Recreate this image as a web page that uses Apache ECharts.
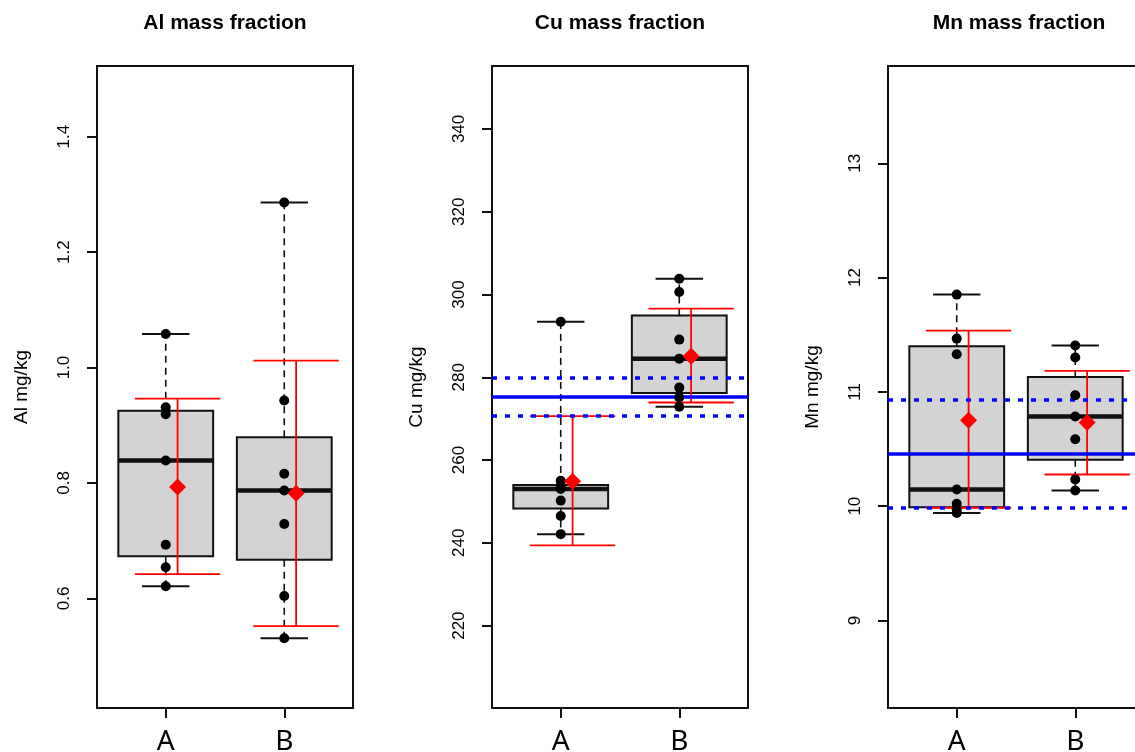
<!DOCTYPE html>
<html>
<head>
<meta charset="utf-8">
<script src="https://cdn.jsdelivr.net/npm/echarts@6/dist/echarts.min.js"></script>
<style>
  html, body { margin: 0; padding: 0; background: #fff; }
  #main { width: 1135px; height: 752px; }
</style>
</head>
<body>
<div id="main"></div>
<script>
// groups on the x axis
var groups = ['A', 'B'];
var titles = ['Al mass fraction', 'Cu mass fraction', 'Mn mass fraction'];
var yNames = ['Al mg/kg', 'Cu mg/kg', 'Mn mg/kg'];

// Al: raw points per group, box stats [min, q1, median, q3, max], mean, mean interval
var alPoints = [[1.058, 0.931, 0.919, 0.839, 0.693, 0.654, 0.621], [1.286, 0.943, 0.816, 0.787, 0.729, 0.604, 0.531]];
var alBox = [[0.621, 0.673, 0.839, 0.925, 1.058], [0.531, 0.667, 0.787, 0.879, 1.286]];
var alMean = [0.793, 0.782];
var alErr = [[0.642, 0.946], [0.552, 1.012]];
var alTicks = [0.6, 0.8, 1.0, 1.2, 1.4];

// Cu
var cuPoints = [[293.4, 255.0, 253.8, 253.0, 250.2, 246.5, 242.1], [303.8, 300.6, 289.1, 284.5, 277.5, 275.1, 272.9]];
var cuBox = [[242.1, 248.3, 253.0, 254.0, 293.4], [272.9, 276.2, 284.5, 294.9, 303.8]];
var cuMean = [254.9, 285.1];
var cuErr = [[239.4, 270.6], [273.9, 296.6]];
var cuRef = [275.3, 270.6, 280.0]; // reference value, lower, upper
var cuTicks = [220, 240, 260, 280, 300, 320, 340];

// Mn
var mnPoints = [[11.851, 11.466, 11.329, 10.146, 10.02, 9.97, 9.94], [11.405, 11.30, 10.97, 10.784, 10.586, 10.234, 10.137]];
var mnBox = [[9.94, 9.99, 10.146, 11.399, 11.851], [10.137, 10.405, 10.784, 11.129, 11.405]];
var mnMean = [10.752, 10.732];
var mnErr = [[9.986, 11.536], [10.277, 11.184]];
var mnRef = [10.461, 9.995, 10.93];
var mnTicks = [9, 10, 11, 12, 13];

// axis limits (as in the picture)
var yLimits = [[0.41, 1.5225], [200.1, 355.2], [8.234, 13.851]];
var xLimits = [0.42, 2.58];

var panels = [
    { points: alPoints, box: alBox, mean: alMean, err: alErr, ref: null, ticks: alTicks, dec: 1 },
    { points: cuPoints, box: cuBox, mean: cuMean, err: cuErr, ref: cuRef, ticks: cuTicks, dec: 0 },
    { points: mnPoints, box: mnBox, mean: mnMean, err: mnErr, ref: mnRef, ticks: mnTicks, dec: 0 }
];

var gridLefts = [97, 492, 888];
var titleCenters = [225, 620, 1019];
var ink = '#111';
var meanShift = 0.1;

function renderBox(params, api) {
    var x = api.value(0);
    var lo = api.coord([x, api.value(1)]);
    var q1 = api.coord([x, api.value(2)]);
    var med = api.coord([x, api.value(3)]);
    var q3 = api.coord([x, api.value(4)]);
    var hi = api.coord([x, api.value(5)]);
    var half = api.size([0.4, 0])[0];
    var cap = api.size([0.2, 0])[0];
    var cx = med[0];
    return {
        type: 'group',
        children: [
            { type: 'line', shape: { x1: cx, y1: q3[1], x2: cx, y2: hi[1] }, style: { stroke: ink, lineWidth: 1.6, lineDash: [7, 5] } },
            { type: 'line', shape: { x1: cx, y1: q1[1], x2: cx, y2: lo[1] }, style: { stroke: ink, lineWidth: 1.6, lineDash: [7, 5] } },
            { type: 'line', shape: { x1: cx - cap, y1: hi[1], x2: cx + cap, y2: hi[1] }, style: { stroke: ink, lineWidth: 2 } },
            { type: 'line', shape: { x1: cx - cap, y1: lo[1], x2: cx + cap, y2: lo[1] }, style: { stroke: ink, lineWidth: 2 } },
            { type: 'rect', shape: { x: cx - half, y: q3[1], width: half * 2, height: q1[1] - q3[1] }, style: { fill: '#d3d3d3', stroke: ink, lineWidth: 2 } },
            { type: 'line', shape: { x1: cx - half, y1: med[1], x2: cx + half, y2: med[1] }, style: { stroke: ink, lineWidth: 4.5 } }
        ]
    };
}

function renderErr(params, api) {
    var x = api.value(0);
    var lo = api.coord([x, api.value(1)]);
    var hi = api.coord([x, api.value(2)]);
    var cap = api.size([0.36, 0])[0];
    var st = { stroke: '#ff0000', lineWidth: 1.8 };
    return {
        type: 'group',
        children: [
            { type: 'line', shape: { x1: lo[0], y1: lo[1], x2: hi[0], y2: hi[1] }, style: st },
            { type: 'line', shape: { x1: lo[0] - cap, y1: lo[1], x2: lo[0] + cap, y2: lo[1] }, style: st },
            { type: 'line', shape: { x1: hi[0] - cap, y1: hi[1], x2: hi[0] + cap, y2: hi[1] }, style: st }
        ]
    };
}

var option = {
    animation: false,
    backgroundColor: '#fff',
    title: [],
    grid: [],
    xAxis: [],
    yAxis: [],
    series: []
};

for (var i = 0; i < panels.length; i++) {
    var p = panels[i];
    (function (p, i) {
        option.title.push({
            text: titles[i],
            left: titleCenters[i],
            top: 13,
            padding: 0,
            textAlign: 'center',
            textStyle: { fontFamily: 'Liberation Sans', fontSize: 21, fontWeight: 'bold', color: '#000' }
        });
        option.grid.push({
            left: gridLefts[i], top: 66, width: 256, height: 642,
            outerBoundsMode: 'none', containLabel: false,
            show: true, borderColor: ink, borderWidth: 2, backgroundColor: 'transparent'
        });
        option.xAxis.push({
            type: 'value', gridIndex: i, min: xLimits[0], max: xLimits[1],
            axisLine: { show: true, lineStyle: { color: ink, width: 2 } },
            axisTick: { show: true, customValues: [1, 2], length: 10, lineStyle: { color: ink, width: 2 } },
            axisLabel: {
                customValues: [1, 2],
                formatter: function (v) { return groups[Math.round(v) - 1]; },
                fontFamily: 'Noto Sans', fontSize: 28, color: '#000', margin: 20
            },
            splitLine: { show: false }
        });
        option.yAxis.push({
            type: 'value', gridIndex: i, min: yLimits[i][0], max: yLimits[i][1],
            name: yNames[i], nameLocation: 'middle', nameGap: 66, nameRotate: 90,
            nameTextStyle: { fontFamily: 'Liberation Sans', fontSize: 19, color: '#000' },
            axisLine: { show: true, lineStyle: { color: ink, width: 2 } },
            axisTick: { show: true, customValues: p.ticks, length: 10, lineStyle: { color: ink, width: 2 } },
            axisLabel: {
                customValues: p.ticks, rotate: 90, margin: 24,
                formatter: function (v) { return v.toFixed(p.dec); },
                fontFamily: 'Liberation Sans', fontSize: 17, color: '#000'
            },
            splitLine: { show: false }
        });

        var boxData = p.box.map(function (b, k) { return [k + 1].concat(b); });
        option.series.push({
            type: 'custom', xAxisIndex: i, yAxisIndex: i, z: 2,
            renderItem: renderBox, data: boxData, silent: true
        });

        var errData = p.err.map(function (e, k) { return [k + 1 + meanShift, e[0], e[1]]; });
        option.series.push({
            type: 'custom', xAxisIndex: i, yAxisIndex: i, z: 3,
            renderItem: renderErr, data: errData, silent: true
        });

        if (p.ref) {
            option.series.push({
                type: 'scatter', xAxisIndex: i, yAxisIndex: i, z: 4, data: [],
                markLine: {
                    silent: true, symbol: 'none', label: { show: false }, animation: false,
                    lineStyle: { color: '#0000ff' },
                    data: [
                        { yAxis: p.ref[0], lineStyle: { type: 'solid', width: 3.5, color: '#0000ff' } },
                        { yAxis: p.ref[1], lineStyle: { type: [5, 8], width: 3.5, color: '#0000ff' } },
                        { yAxis: p.ref[2], lineStyle: { type: [5, 8], width: 3.5, color: '#0000ff' } }
                    ]
                }
            });
        }

        var pts = [];
        p.points.forEach(function (g, k) {
            g.forEach(function (v) { pts.push([k + 1, v]); });
        });
        option.series.push({
            type: 'scatter', xAxisIndex: i, yAxisIndex: i, z: 5,
            symbol: 'circle', symbolSize: 10, itemStyle: { color: '#000', opacity: 1 }, data: pts, silent: true
        });

        var means = p.mean.map(function (m, k) { return [k + 1 + meanShift, m]; });
        option.series.push({
            type: 'scatter', xAxisIndex: i, yAxisIndex: i, z: 6,
            symbol: 'diamond', symbolSize: [17, 17], itemStyle: { color: '#ff0000', opacity: 1 }, data: means, silent: true
        });
    })(p, i);
}

var myChart = echarts.init(document.getElementById('main'));
myChart.setOption(option);
</script>
</body>
</html>
